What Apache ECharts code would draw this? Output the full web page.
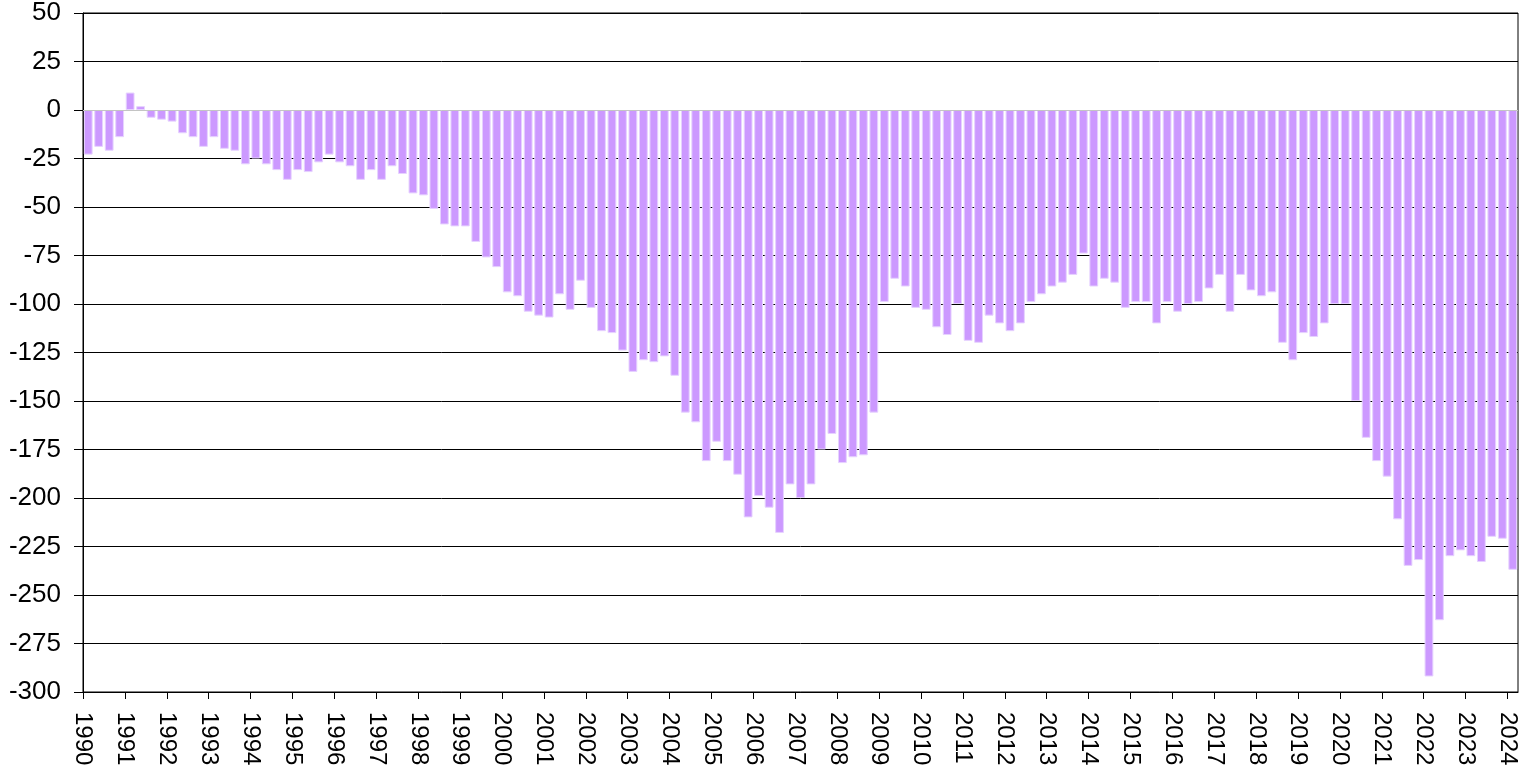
<!DOCTYPE html>
<html lang="en">

<head>
    <meta charset="UTF-8">
    <meta name="viewport" content="width=device-width, initial-scale=1.0">
    <title>Quarterly balance</title>
    <style>
        * {
            padding: 0;
            margin: 0;
            box-sizing: border-box;
        }

        html,
        body,
        .chart-container {
            width: 100%;
            height: 100%;
            background: #fff;
        }
    </style>
</head>

<body>
    <div id="chart-container" class="chart-container"></div>
</body>

</html>
<script src="https://cdn.jsdelivr.net/npm/echarts@6.0.0/dist/echarts.min.js"></script>

<script>
    // year tick labels
    const years = []
    for (let y = 1990; y <= 2024; y++) years.push(y)

    // quarterly values, 1990 Q1 .. 2024 Q1
    const values = [
        -23, -19, -21, -14,     // 1990
        9, 2, -4, -5,           // 1991
        -6, -12, -14, -19,      // 1992
        -14, -20, -21, -28,     // 1993
        -25, -28, -31, -36,     // 1994
        -31, -32, -27, -23,     // 1995
        -27, -29, -36, -31,     // 1996
        -36, -29, -33, -43,     // 1997
        -44, -51, -59, -60,     // 1998
        -60, -68, -76, -81,     // 1999
        -94, -96, -104, -106,   // 2000
        -107, -95, -103, -88,   // 2001
        -102, -114, -115, -124, // 2002
        -135, -129, -130, -127, // 2003
        -137, -156, -161, -181, // 2004
        -171, -181, -188, -210, // 2005
        -199, -205, -218, -193, // 2006
        -200, -193, -175, -167, // 2007
        -182, -179, -178, -156, // 2008
        -99, -87, -91, -102,    // 2009
        -103, -112, -116, -100, // 2010
        -119, -120, -106, -110, // 2011
        -114, -110, -99, -95,   // 2012
        -91, -89, -85, -74,     // 2013
        -91, -87, -89, -102,    // 2014
        -99, -99, -110, -99,    // 2015
        -104, -100, -99, -92,   // 2016
        -85, -104, -85, -93,    // 2017
        -96, -94, -120, -129,   // 2018
        -115, -117, -110, -100, // 2019
        -100, -150, -169, -181, // 2020
        -189, -211, -235, -232, // 2021
        -292, -263, -230, -227, // 2022
        -230, -233, -220, -221, // 2023
        -237                    // 2024
    ]

    // quarter categories
    const quarters = values.map((v, i) => years[0] + Math.floor(i / 4) + 'Q' + (i % 4 + 1))

    window.onload = function () {
        var myChart = echarts.init(document.getElementById('chart-container'));

        var font = 'Liberation Sans, Arial, sans-serif'

        var option = {
            animation: false,
            backgroundColor: '#fff',
            grid: {
                left: 83,
                right: 5,
                top: 11,
                bottom: 77,
                show: true,
                borderColor: '#000',
                borderWidth: 1,
                containLabel: false
            },
            xAxis: [{
                    // bars sit on this one
                    type: 'category',
                    data: quarters,
                    show: false
                },
                {
                    // year ticks and labels
                    type: 'value',
                    position: 'bottom',
                    min: years[0],
                    max: years[0] + quarters.length / 4,
                    splitLine: { show: false },
                    axisLine: {
                        onZero: false,
                        lineStyle: { color: '#000', width: 1 }
                    },
                    axisTick: {
                        customValues: years,
                        length: 7,
                        lineStyle: { color: '#000' }
                    },
                    axisLabel: {
                        customValues: years,
                        formatter: function (v) {
                            return String(v)
                        },
                        rotate: -90,
                        margin: 20,
                        color: '#000',
                        fontSize: 24,
                        fontFamily: font
                    }
                }
            ],
            yAxis: {
                type: 'value',
                min: -300,
                max: 50,
                interval: 25,
                axisLine: {
                    show: true,
                    onZero: false,
                    lineStyle: { color: '#000', width: 1 }
                },
                axisTick: {
                    show: true,
                    length: 9,
                    lineStyle: { color: '#000' }
                },
                axisLabel: {
                    margin: 22,
                    color: '#000',
                    fontSize: 26,
                    fontFamily: font
                },
                splitLine: {
                    lineStyle: { color: '#000', width: 1 }
                }
            },
            series: [{
                type: 'bar',
                xAxisIndex: 0,
                data: values,
                barCategoryGap: '16%',
                itemStyle: {
                    color: '#cc99ff',
                    borderColor: '#e6d2ff',
                    borderWidth: 1
                },
                markLine: {
                    silent: true,
                    symbol: 'none',
                    label: { show: false },
                    lineStyle: { color: '#c4c4c4', width: 1, type: 'solid' },
                    data: [{ yAxis: 0 }]
                }
            }]
        };
        myChart.setOption(option);
    }
</script>
